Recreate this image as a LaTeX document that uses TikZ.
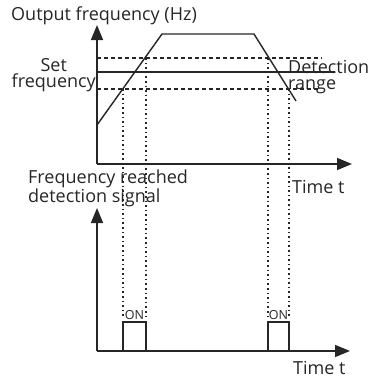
\documentclass[tikz,border=0pt]{standalone}
\usepackage{fontspec}
\setmainfont{Open Sans}
\usetikzlibrary{arrows.meta}
\definecolor{grisTrazo}{HTML}{262626}

\begin{document}
\begin{tikzpicture}[x=1pt,y=-1pt,>={Triangle[length=15pt,width=12pt]},
  every node/.style={text=grisTrazo,inner sep=0pt,font=\fontsize{18}{16}\selectfont},
  eje/.style={grisTrazo,line width=1.6pt,->},
  curva/.style={grisTrazo,line width=1.4pt},
  rango/.style={grisTrazo,line width=1.1pt,dash pattern=on 4pt off 3pt},
  marca/.style={grisTrazo,line width=1.6pt,dash pattern=on 1.6pt off 3pt},
  rotulo/.style={font=\fontsize{12.5}{12.5}\selectfont}]
  \useasboundingbox (0,0) rectangle (370,378);
  % ejes
  \coordinate (oF) at (97,164);
  \coordinate (yF) at (97,25);
  \coordinate (xF) at (352,164);
  \coordinate (oS) at (97,351);
  \coordinate (yS) at (97,208);
  \coordinate (xS) at (350,351);
  \draw[eje] (oF) -- (yF);
  \draw[eje] (oF) -- (xF);
  \draw[eje] (oS) -- (yS);
  \draw[eje] (oS) -- (xS);
  % niveles
  \coordinate (sup0) at (97,58);  \coordinate (sup1) at (322,58);
  \coordinate (set0) at (97,72);  \coordinate (set1) at (335,72);
  \coordinate (inf0) at (97,89);  \coordinate (inf1) at (320,89);
  \draw[rango] (sup0) -- (sup1);
  \draw[curva,line width=1.1pt] (set0) -- (set1);
  \draw[rango] (inf0) -- (inf1);
  % frecuencia de salida
  \coordinate (c0) at (97,125);
  \coordinate (c1) at (162,34);
  \coordinate (c2) at (254,34);
  \coordinate (c3) at (296,101);
  \draw[curva] (c0) -- (c1) -- (c2) -- (c3);
  % cruces con el rango
  \coordinate (a1) at (123,89);
  \coordinate (a2) at (146,58);
  \coordinate (b1) at (268,58);
  \coordinate (b2) at (289,89);
  \coordinate (tope) at (0,322);
  \coordinate (fin) at (0,318);
  \foreach \p in {a1,a2,b1,b2}
    \draw[marca] (\p) -- (\p |- fin);
  \draw[curva] (a1 |- oS) rectangle (a2 |- tope);
  \draw[curva] (b1 |- oS) rectangle (b2 |- tope);
  % textos
  \node[anchor=base west] (tituloF) at (11,20) {Output frequency (Hz)};
  \node[align=center,anchor=base east] (setF) at (96,87) {Set\\frequency};
  \node[align=left,anchor=base west] (det) at (288,89) {Detection\\range};
  \node[anchor=base west] (tiempoF) at (292,193) {Time t};
  \node[align=left,anchor=base west] (tituloS) at (28,202)
    {Frequency reached\\detection signal};
  \node[anchor=base west] (tiempoS) at (293,374) {Time t};
  \node[rotulo,anchor=base] (onA) at (134.5,319) {ON};
  \node[rotulo,anchor=base] (onB) at (278.5,319) {ON};
\end{tikzpicture}
\end{document}
